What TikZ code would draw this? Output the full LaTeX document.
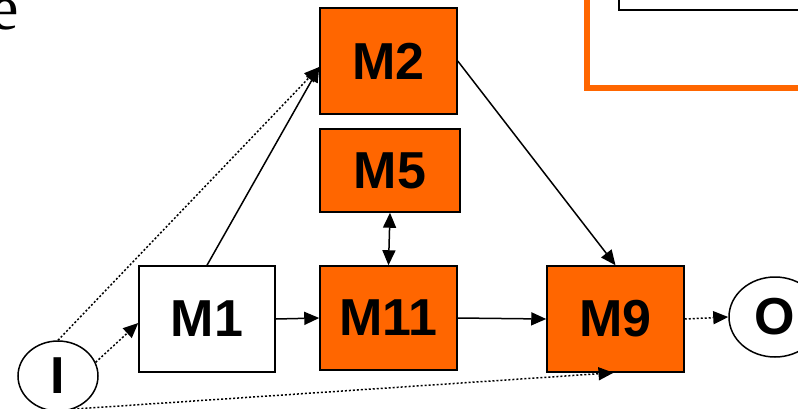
\documentclass[tikz,border=0pt]{standalone}
\usepackage{fontspec}
\setmainfont{Liberation Serif}
\setsansfont{Liberation Sans}
\usetikzlibrary{arrows.meta,shapes.geometric}
\definecolor{modorange}{HTML}{FF6600}
\newfontfamily\labelfont{Liberation Sans}
\begin{document}
\begin{tikzpicture}[x=1pt,y=-1pt,
  every node/.style={inner sep=0pt},
  module/.style={draw=black, line width=1.5pt, rectangle,
    font=\labelfont\fontsize{52}{52}\selectfont\bfseries},
  hot/.style={module, fill=modorange},
  plain/.style={module, fill=white},
  port/.style={draw=black, line width=1.5pt, ellipse, fill=white,
    font=\labelfont\fontsize{52}{52}\selectfont\bfseries},
  flow/.style={line width=1.5pt, -{Triangle[length=15pt,width=13pt]}},
  dotflow/.style={flow, dash pattern=on 2pt off 2pt},
  both/.style={line width=1.5pt, {Triangle[length=15pt,width=13pt]}-{Triangle[length=15pt,width=13pt]}}
]
\useasboundingbox (0,0) rectangle (798,408);
\clip (0,0) rectangle (798,408);

% heading fragment and legend frame at the top
\node[anchor=base east, font=\rmfamily\fontsize{64}{64}\selectfont] (head) at (19,29) {e};
\draw[modorange, line width=6pt] (587,-20) rectangle (830,88);
\draw[black, line width=1.5pt] (619,-20) rectangle (830,10);

% modules
\node[hot, minimum width=137pt, minimum height=106pt] (M2) at (388.5,61) {M2};
\node[hot, minimum width=140pt, minimum height=83pt] (M5) at (390,170.5) {M5};
\node[hot, minimum width=137pt, minimum height=104pt] (M11) at (388.5,318) {M11};
\node[plain, minimum width=136pt, minimum height=106pt] (M1) at (207,319) {M1};
\node[hot, minimum width=137pt, minimum height=106pt] (M9) at (615.5,319) {M9};

% input and output ports
\node[port, minimum width=80pt, minimum height=70pt] (I) at (58,376) {I};
\node[port, minimum width=92pt, minimum height=80pt] (O) at (775,317) {O};

% connections
\draw[dotflow] (I.20) -- ([yshift=-4pt]M1.west);
\draw[dotflow] (I.north) -- ([yshift=-6pt]M2.west);
\draw[flow] (M1.north) -- ([yshift=-6pt]M2.west);
\draw[flow] (M1.east) -- (M11.west);
\draw[both] (M5.south) -- (M11.north);
\draw[flow] (M2.east) -- (M9.north);
\draw[flow] (M11.east) -- (M9.west);
\draw[dotflow] (M9.east) -- (O.west);
\draw[dotflow] (I.-65) -- ([xshift=-2pt]M9.south);
\end{tikzpicture}
\end{document}
